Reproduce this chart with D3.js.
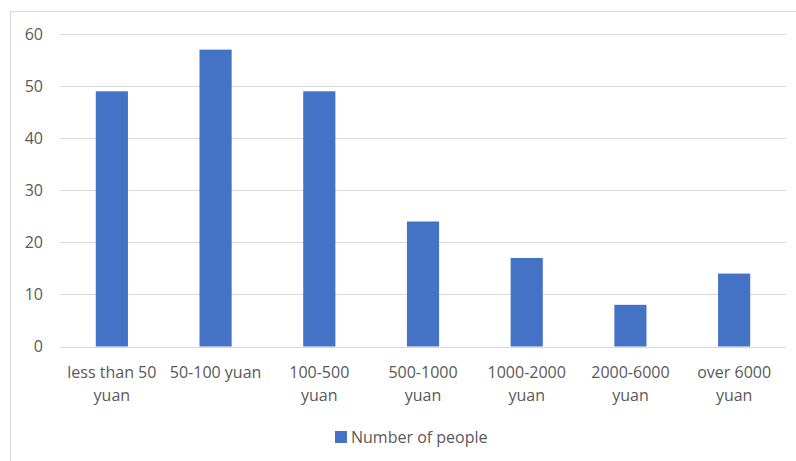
<!DOCTYPE html>
<html>
<head>
<meta charset="utf-8">
<script src="https://cdn.jsdelivr.net/npm/d3@7/dist/d3.min.js"></script>
<style>
  html, body { margin: 0; padding: 0; background: #fff; }
  svg { display: block; }
  text { font-family: "Open Sans", "Noto Sans", sans-serif; fill: #595959; }
</style>
</head>
<body>
<svg id="chart" width="796" height="461"></svg>
<script>
// Spending ranges and number of respondents in each
const categories = [
  ["less than 50", "yuan"],
  ["50-100 yuan"],
  ["100-500", "yuan"],
  ["500-1000", "yuan"],
  ["1000-2000", "yuan"],
  ["2000-6000", "yuan"],
  ["over 6000", "yuan"]
];
const people = [49, 57, 49, 24, 17, 8, 14];
const yTicks = [0, 10, 20, 30, 40, 50, 60];
const seriesName = "Number of people";

const svg = d3.select("#chart");
const W = 796, H = 461;
const plot = { left: 60, right: 786, top: 34, bottom: 346.5 };
const fontSize = 16;

// outer chart frame
svg.append("rect")
  .attr("x", 10.5).attr("y", 11.5)
  .attr("width", W + 10).attr("height", H + 10)
  .attr("fill", "none").attr("stroke", "#d9d9d9").attr("stroke-width", 1);

const x = d3.scaleBand()
  .domain(d3.range(categories.length))
  .range([plot.left, plot.right])
  .padding(0);

const y = d3.scaleLinear()
  .domain([0, 60])
  .range([plot.bottom, plot.top]);

// horizontal gridlines
svg.append("g")
  .selectAll("line")
  .data(yTicks)
  .join("line")
  .attr("x1", plot.left).attr("x2", plot.right)
  .attr("y1", d => Math.round(y(d)) + 0.5)
  .attr("y2", d => Math.round(y(d)) + 0.5)
  .attr("stroke", "#d9d9d9").attr("stroke-width", 1);

// y-axis labels
const yAxis = d3.axisLeft(y).tickValues(yTicks).tickSize(0).tickPadding(0);
svg.append("g")
  .attr("transform", `translate(${plot.left - 17},0)`)
  .call(yAxis)
  .call(g => g.select(".domain").remove())
  .call(g => g.selectAll("text")
    .attr("font-size", fontSize)
    .attr("font-family", "'Open Sans', 'Noto Sans', sans-serif")
    .attr("fill", "#595959"));

// bars
const barW = x.bandwidth() * 0.31;
svg.append("g")
  .selectAll("rect")
  .data(people)
  .join("rect")
  .attr("x", (d, i) => x(i) + (x.bandwidth() - barW) / 2)
  .attr("y", d => y(d))
  .attr("width", barW)
  .attr("height", d => y(0) - y(d))
  .attr("fill", "#4472C4");

// category labels (two lines where wrapped)
const lab = svg.append("g")
  .selectAll("text")
  .data(categories)
  .join("text")
  .attr("text-anchor", "middle")
  .attr("font-size", fontSize)
  .attr("x", (d, i) => x(i) + x.bandwidth() / 2)
  .attr("y", 378);
lab.selectAll("tspan")
  .data(d => d)
  .join("tspan")
  .attr("x", function () { return d3.select(this.parentNode).attr("x"); })
  .attr("dy", (d, i) => i === 0 ? 0 : 23)
  .text(d => d);

// legend
const legend = svg.append("g");
legend.append("rect")
  .attr("x", 335).attr("y", 431)
  .attr("width", 12).attr("height", 12)
  .attr("fill", "#4472C4");
legend.append("text")
  .attr("x", 351).attr("y", 443)
  .attr("font-size", fontSize)
  .text(seriesName);
</script>
</body>
</html>
